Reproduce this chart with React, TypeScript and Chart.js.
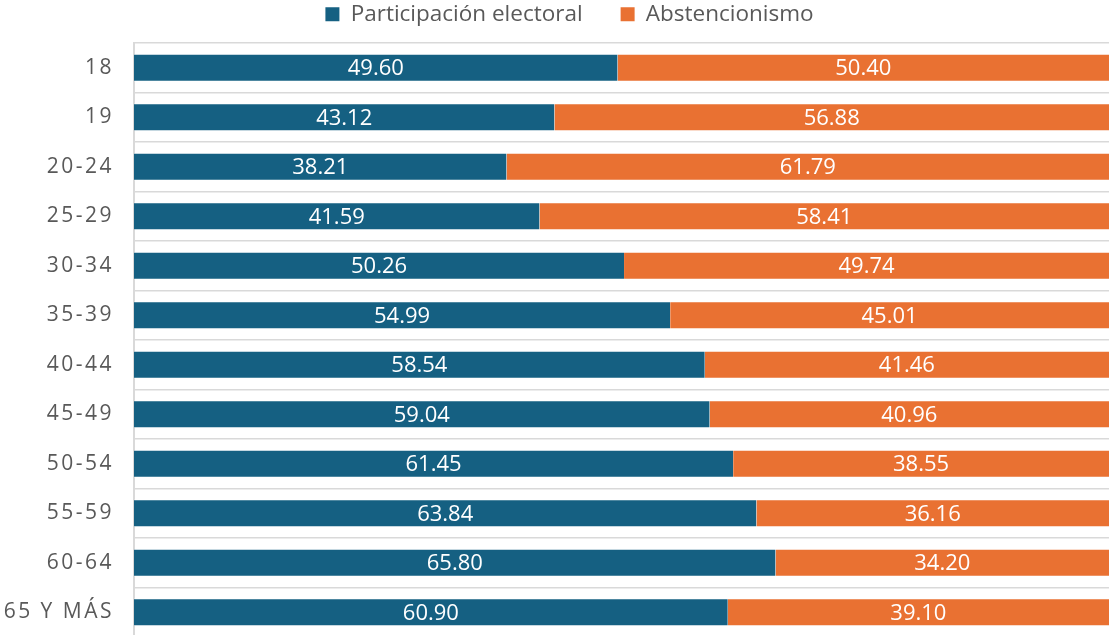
import React, { useEffect, useRef } from 'react';
import { Chart, registerables } from 'chart.js';

Chart.register(...registerables);

const categories = ['18', '19', '20-24', '25-29', '30-34', '35-39', '40-44', '45-49', '50-54', '55-59', '60-64', '65 Y MÁS'];
const participacion = [49.6, 43.12, 38.21, 41.59, 50.26, 54.99, 58.54, 59.04, 61.45, 63.84, 65.8, 60.9];
const abstencionismo = [50.4, 56.88, 61.79, 58.41, 49.74, 45.01, 41.46, 40.96, 38.55, 36.16, 34.2, 39.1];
const seriesNames = ['Participación electoral', 'Abstencionismo'];
const xMin = 0;
const xMax = 100;

const BLUE = '#156082';
const ORANGE = '#E97132';
const TEXT = '#595959';
const GRID = '#D9D9D9';
const EDGE = 'rgba(255,255,255,0.35)';
const FONT = "'Open Sans', sans-serif";

const dataLabels = {
  id: 'dataLabels',
  afterDatasetsDraw(chart: any) {
    const ctx = chart.ctx;
    ctx.save();
    ctx.font = `22px ${FONT}`;
    ctx.fillStyle = '#ffffff';
    ctx.textAlign = 'center';
    ctx.textBaseline = 'middle';
    chart.data.datasets.forEach((ds: any, di: number) => {
      const meta = chart.getDatasetMeta(di);
      meta.data.forEach((el: any, i: number) => {
        const p = el.getCenterPoint();
        ctx.fillText(Number(ds.data[i]).toFixed(2), p.x, p.y + 1);
      });
    });
    ctx.restore();
  },
};

const yLabelSpacing = {
  id: 'yLabelSpacing',
  beforeDraw(chart: any) {
    const s: any = chart.scales.y;
    if (s && !s.__wrapped) {
      const orig = s.drawLabels.bind(s);
      s.drawLabels = (area: any) => {
        const ctx: any = chart.ctx;
        ctx.save();
        ctx.letterSpacing = '2.5px';
        orig(area);
        ctx.restore();
      };
      s.__wrapped = true;
    }
  },
};

const legendSpacing = {
  id: 'legendSpacing',
  beforeLayout(chart: any) {
    const lg: any = chart.legend;
    if (lg && !lg.__wrapped) {
      const fit = lg.fit.bind(lg);
      lg.fit = () => {
        fit();
        lg.height = 43;
      };
      lg.__wrapped = true;
    }
  },
  afterLayout(chart: any) {
    const lg: any = chart.legend;
    if (lg) {
      lg.top = -35;
      lg.bottom = 43;
      lg.left += 15;
      lg.right += 15;
    }
  },
};

export default function App() {
  const ref = useRef<HTMLCanvasElement | null>(null);

  useEffect(() => {
    if (!ref.current) return;
    const edgeWidth = { top: 1, bottom: 1, left: 0, right: 0 };
    const chart = new Chart(ref.current, {
      type: 'bar',
      data: {
        labels: categories,
        datasets: [
          {
            label: seriesNames[0],
            data: participacion,
            backgroundColor: BLUE,
            borderColor: EDGE,
            borderWidth: edgeWidth,
            barPercentage: 0.565,
            categoryPercentage: 1,
          },
          {
            label: seriesNames[1],
            data: abstencionismo,
            backgroundColor: ORANGE,
            borderColor: EDGE,
            borderWidth: edgeWidth,
            barPercentage: 0.565,
            categoryPercentage: 1,
          },
        ],
      },
      options: {
        indexAxis: 'y',
        animation: false,
        responsive: true,
        maintainAspectRatio: false,
        layout: { padding: { top: 0, right: 1, left: 0, bottom: 0 } },
        plugins: {
          tooltip: { enabled: false },
          legend: {
            display: true,
            position: 'top',
            labels: {
              boxWidth: 14,
              boxHeight: 14,
              padding: 38,
              color: TEXT,
              font: { family: FONT, size: 22.5 },
              generateLabels(chart: any) {
                return chart.data.datasets.map((ds: any, i: number) => ({
                  text: ds.label,
                  fillStyle: ds.backgroundColor,
                  strokeStyle: ds.backgroundColor,
                  lineWidth: 0,
                  fontColor: TEXT,
                  hidden: false,
                  datasetIndex: i,
                }));
              },
            },
          },
        },
        scales: {
          x: {
            stacked: true,
            min: xMin,
            max: xMax,
            display: false,
          },
          y: {
            stacked: true,
            grid: { display: true, color: GRID, lineWidth: 1.5, drawTicks: false, offset: true },
            border: { display: true, color: GRID, width: 2 },
            ticks: { color: TEXT, font: { family: FONT, size: 21 }, padding: 20 },
            afterFit(scale: any) {
              scale.width = 134;
              scale.paddingTop = 0;
              scale.paddingBottom = 0;
            },
          },
        },
      },
      plugins: [dataLabels, yLabelSpacing, legendSpacing],
    } as any);
    let alive = true;
    if ((document as any).fonts && (document as any).fonts.load) {
      Promise.all([
        (document as any).fonts.load(`22px ${FONT}`),
        (document as any).fonts.load(`22px ${FONT}`, 'ÁMY0123456789'),
      ])
        .then(() => {
          if (alive) chart.update();
        })
        .catch(() => {});
    }
    return () => {
      alive = false;
      chart.destroy();
    };
  }, []);

  return (
    <div style={{ position: 'absolute', left: 0, top: 0, width: 1110, height: 637 }}>
      <canvas ref={ref} />
    </div>
  );
}
